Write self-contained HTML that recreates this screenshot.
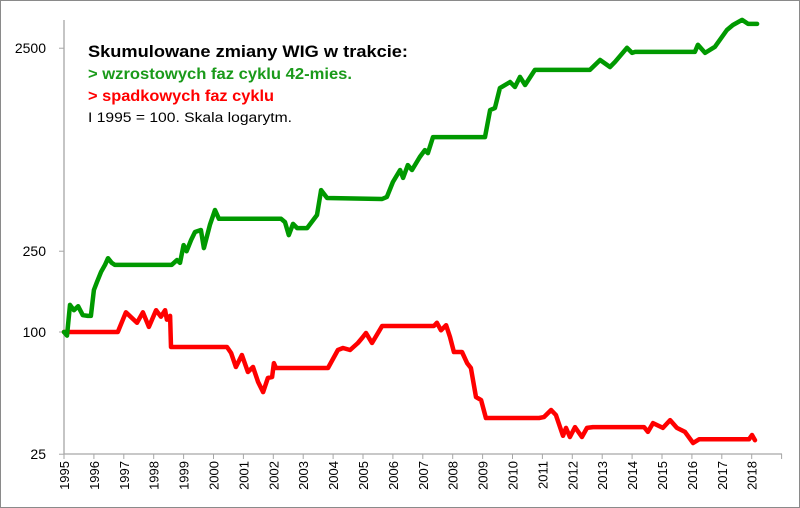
<!DOCTYPE html>
<html><head><meta charset="utf-8"><style>
body{margin:0;background:#fff}
svg{display:block;font-family:"Liberation Sans",sans-serif}
</style></head><body>
<svg id="c" width="800" height="508" viewBox="0 0 800 508">
<rect x="0.5" y="0.5" width="799" height="507" fill="#fff" stroke="#8a8a8a"/>
<g id="axes"></g>
<g id="series"></g>
<g>
<text x="88" y="57" font-size="17" font-weight="bold" fill="#000" textLength="320" lengthAdjust="spacingAndGlyphs">Skumulowane zmiany WIG w trakcie:</text>
<text x="88" y="79" font-size="15.5" font-weight="bold" fill="#1a9a1a" textLength="264" lengthAdjust="spacingAndGlyphs">&gt; wzrostowych faz cyklu 42-mies.</text>
<text x="88" y="101" font-size="15.5" font-weight="bold" fill="#ff0000" textLength="186" lengthAdjust="spacingAndGlyphs">&gt; spadkowych faz cyklu</text>
<text x="88" y="122" font-size="13.5" fill="#000" textLength="204" lengthAdjust="spacingAndGlyphs">I 1995 = 100. Skala logarytm.</text>
</g>
</svg>
<script>
const yTicks=[2500,250,100,25];
const xYears=[1995,1996,1997,1998,1999,2000,2001,2002,2003,2004,2005,2006,2007,2008,2009,2010,2011,2012,2013,2014,2015,2016,2017,2018];
const greenDates=[1995.0,1995.1,1995.2,1995.33,1995.47,1995.63,1995.8,1995.9,1996.0,1996.1,1996.24,1996.37,1996.47,1996.6,1996.7,1998.6,1998.78,1998.88,1999.0,1999.1,1999.25,1999.38,1999.58,1999.68,1999.88,2000.05,2000.18,2002.26,2002.39,2002.52,2002.66,2002.8,2003.13,2003.46,2003.6,2003.8,2005.64,2005.8,2006.0,2006.24,2006.34,2006.5,2006.64,2006.9,2007.07,2007.17,2007.34,2009.08,2009.25,2009.41,2009.58,2009.92,2010.08,2010.25,2010.42,2010.75,2012.59,2012.93,2013.26,2013.43,2013.83,2014.0,2014.1,2016.1,2016.2,2016.44,2016.77,2017.17,2017.37,2017.68,2017.88,2018.18];
const greenValues=[100,96,136,128,134,121,120,120,161,176,198,214,231,219,214,214,226,219,268,250,284,311,318,259,337,399,361,361,348,300,341,325,325,377,500,457,452,463,548,628,574,664,628,728,787,761,912,912,1239,1268,1591,1704,1610,1805,1647,1956,1956,2188,2020,2143,2511,2372,2399,2399,2600,2372,2540,3074,3255,3447,3293,3293];
const redDates=[1995.0,1996.8,1997.07,1997.44,1997.64,1997.84,1998.08,1998.24,1998.38,1998.44,1998.55,1998.58,2000.45,2000.59,2000.75,2000.95,2001.15,2001.32,2001.49,2001.66,2001.82,2001.96,2002.02,2002.09,2003.83,2004.16,2004.33,2004.57,2004.83,2004.97,2005.1,2005.3,2005.64,2007.37,2007.47,2007.61,2007.78,2007.91,2008.04,2008.31,2008.48,2008.61,2008.78,2008.95,2009.11,2010.89,2011.05,2011.29,2011.45,2011.69,2011.79,2011.92,2012.09,2012.32,2012.49,2012.69,2014.4,2014.53,2014.7,2015.03,2015.27,2015.5,2015.77,2016.04,2016.24,2017.91,2018.01,2018.11];
const redValues=[100,100,125,111,125,106,128,119,128,115,120,84.4,84.4,78.8,67.2,77.0,63.5,67.2,56.7,50.6,59.4,60.0,70.3,66.5,66.5,81.5,83.4,81.5,88.3,93.4,98.9,88.3,107,107,111,102,108,94.5,79.7,79.7,70.3,66.5,47.8,46.2,37.7,37.7,38.1,41.3,39.0,30.8,33.7,30.4,34.0,30.4,33.7,34.0,34.0,32.2,35.6,33.7,36.8,33.7,32.2,28.4,29.6,29.6,31.1,29.3];

const NS='http://www.w3.org/2000/svg';
const X0=64, PXY=29.9, Y100=332, PXD=203, YB=454, XEND=782;
function xs(t){return X0+(t-1995)*PXY;}
function ys(v){return Y100-Math.log10(v/100)*PXD;}
function mk(tag,attrs,parent){const e=document.createElementNS(NS,tag);for(const k in attrs)e.setAttribute(k,attrs[k]);parent.appendChild(e);return e;}
const ax=document.getElementById('axes');
let l=mk('line',{x1:X0,y1:20,x2:X0,y2:YB,stroke:'#a6a6a6','stroke-width':1.3},ax);


l=mk('line',{x1:X0,y1:YB,x2:XEND,y2:YB,stroke:'#a6a6a6','stroke-width':1.3},ax);


yTicks.forEach(v=>{
  const y=ys(v);
  const t=mk('line',{x1:X0-5,y1:y,x2:X0,y2:y,stroke:'#a6a6a6'},ax);
  
  
  const tx=mk('text',{x:46,y:y+5,'font-size':14,'text-anchor':'end',fill:'#000'},ax);
  tx.textContent=v;
  
  
});
for(let yr=1995;yr<=2019;yr++){
  const x=xs(yr);
  const t=mk('line',{x1:x,y1:YB,x2:x,y2:YB+5,stroke:'#a6a6a6'},ax);
  
  
}
xYears.forEach(yr=>{
  const x=xs(yr);
  const tx=mk('text',{x:0,y:0,'font-size':13,'text-anchor':'end',fill:'#000',transform:`translate(${x+5},${YB+7}) rotate(-90)`},ax);
  tx.textContent=yr;
  
  
});
const sg=document.getElementById('series');
function line(d,v,col,name){
  const pts=d.map((t,i)=>xs(t).toFixed(1)+','+ys(v[i]).toFixed(1)).join(' ');
  const p=mk('polyline',{points:pts,fill:'none',stroke:col,'stroke-width':4.5,'stroke-linejoin':'round','stroke-linecap':'round'},sg);
  
  
}
line(redDates,redValues,'#ff0000','decline-series-line');
line(greenDates,greenValues,'#009900','growth-series-line');
</script>
</body></html>
